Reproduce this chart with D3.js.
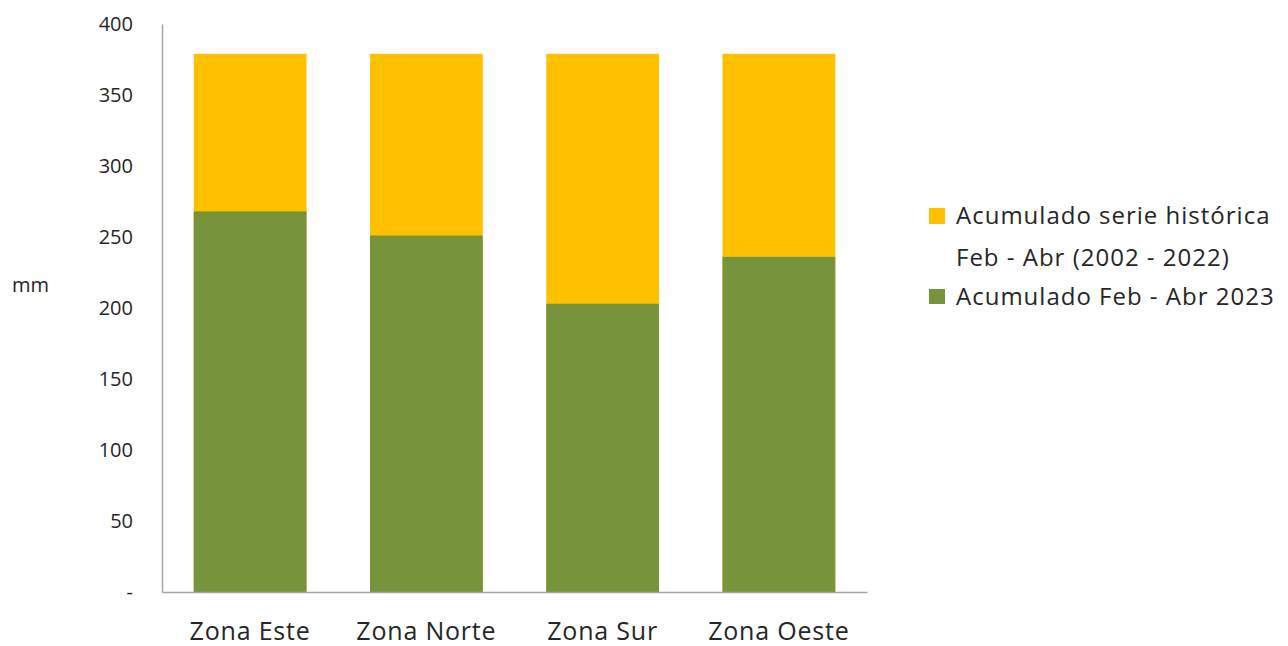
<!DOCTYPE html>
<html>
<head>
<meta charset="utf-8">
<script src="https://cdn.jsdelivr.net/npm/d3@7"></script>
<style>
  body { margin: 0; background: #fff; }
  text { font-family: "Open Sans", "Liberation Sans", sans-serif; fill: #262626; }
</style>
</head>
<body>
<div id="chart"></div>
<script>
// data
var zonas = ["Zona Este", "Zona Norte", "Zona Sur", "Zona Oeste"];
var historico = [379, 379, 379, 379];   // Acumulado serie histórica Feb - Abr (2002 - 2022)
var actual = [268, 251, 203, 236];      // Acumulado Feb - Abr 2023
var yTicks = [0, 50, 100, 150, 200, 250, 300, 350, 400];

var svgWidth = 1288;
var svgHeight = 646;
var margin = { top: 24, right: 421, bottom: 54, left: 162 };
var width = svgWidth - margin.left - margin.right;
var height = svgHeight - margin.top - margin.bottom;

var svg = d3.select("#chart").append("svg")
  .attr("width", svgWidth)
  .attr("height", svgHeight);

var chartGroup = svg.append("g")
  .attr("transform", `translate(${margin.left}, ${margin.top})`);

var x = d3.scaleBand()
  .domain(zonas)
  .range([0, width])
  .paddingInner(0.36)
  .paddingOuter(0.18);

var y = d3.scaleLinear()
  .domain([0, 400])
  .range([height, 0]);

// historic bars (behind)
chartGroup.selectAll(".hist")
  .data(zonas)
  .enter().append("rect")
  .attr("class", "hist")
  .attr("x", d => x(d))
  .attr("width", x.bandwidth())
  .attr("y", (d, i) => y(historico[i]))
  .attr("height", (d, i) => height - y(historico[i]))
  .attr("fill", "#FFC000");

// 2023 bars (front)
chartGroup.selectAll(".act")
  .data(zonas)
  .enter().append("rect")
  .attr("class", "act")
  .attr("x", d => x(d))
  .attr("width", x.bandwidth())
  .attr("y", (d, i) => y(actual[i]))
  .attr("height", (d, i) => height - y(actual[i]))
  .attr("fill", "#77933C");

// axes
var leftAxis = d3.axisLeft(y)
  .tickValues(yTicks)
  .tickSize(0)
  .tickPadding(29)
  .tickFormat(d => d === 0 ? "-" : d);

var yAxisG = chartGroup.append("g").call(leftAxis);
yAxisG.select(".domain").attr("stroke", "#a6a6a6").attr("stroke-width", 1.5);
yAxisG.selectAll("text")
  .style("font-size", "20px")
  .style("fill", "#262626");

var bottomAxis = d3.axisBottom(x).tickSize(0).tickPadding(30);
var xAxisG = chartGroup.append("g")
  .attr("transform", `translate(0, ${height})`)
  .call(bottomAxis);
xAxisG.select(".domain").attr("stroke", "#a6a6a6").attr("stroke-width", 1.5);
xAxisG.selectAll("text")
  .style("font-size", "25px")
  .style("letter-spacing", "0.8px")
  .style("fill", "#262626");

// y axis title
svg.append("text")
  .attr("x", 12)
  .attr("y", 292)
  .style("font-size", "20px")
  .text("mm");

// legend
var legend = svg.append("g").attr("transform", "translate(929, 0)");
legend.append("rect")
  .attr("x", 0).attr("y", 208).attr("width", 16).attr("height", 16)
  .attr("fill", "#FFC000");
legend.append("text")
  .attr("x", 27).attr("y", 224)
  .style("font-size", "24px")
  .style("letter-spacing", "1px")
  .text("Acumulado serie histórica");
legend.append("text")
  .attr("x", 27).attr("y", 266)
  .style("font-size", "24px")
  .style("letter-spacing", "1px")
  .text("Feb - Abr (2002 - 2022)");
legend.append("rect")
  .attr("x", 0).attr("y", 289).attr("width", 16).attr("height", 15)
  .attr("fill", "#77933C");
legend.append("text")
  .attr("x", 27).attr("y", 305)
  .style("font-size", "24px")
  .style("letter-spacing", "1px")
  .text("Acumulado Feb - Abr 2023");
</script>
</body>
</html>
